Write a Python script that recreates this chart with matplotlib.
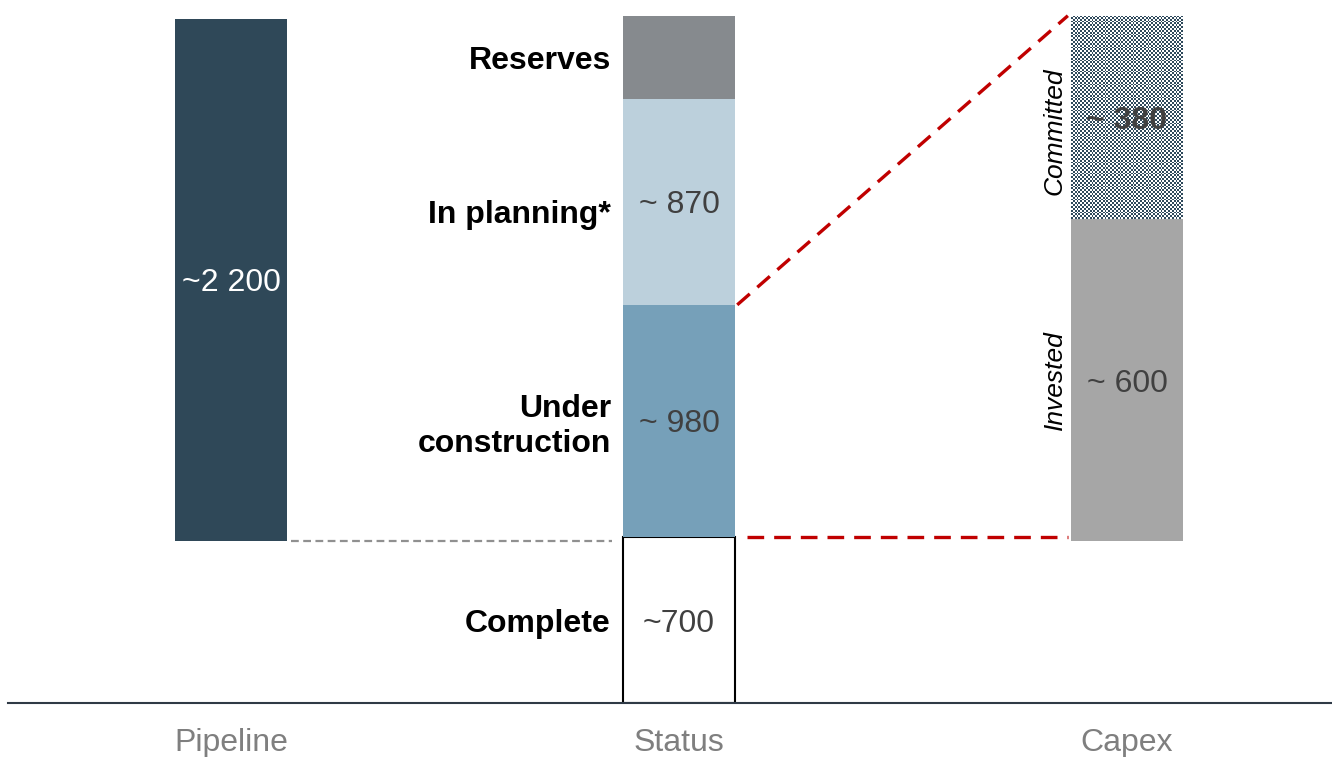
import numpy as np
import matplotlib.pyplot as plt

plt.rcParams['font.family'] = ['Liberation Sans', 'DejaVu Sans']

# categories along the x axis
categories = ['Pipeline', 'Status', 'Capex']

# pipeline total (units)
pipeline_value = 2200
pipeline_label = '~2 200'

# status breakdown, bottom to top
status_names = ['Complete', 'Under\nconstruction', 'In planning*', 'Reserves']
status_values = [700, 980, 870, 350]
status_labels = ['~700', '~ 980', '~ 870', '']
status_colors = ['white', '#76a0b9', '#bcd0dc', '#868a8e']

# capex breakdown (own scale), bottom to top
capex_names = ['Invested', 'Committed']
capex_values = [600, 380]
capex_labels = ['~ 600', '~ 380']

PX = 0.237            # pixels per unit on the main axis
CAPEX_PX = 0.536      # pixels per unit on the capex axis
PIPE_BASE = 685       # pipeline bar floats at the complete level
W = 0.248

fig = plt.figure(figsize=(13.32, 7.57), dpi=100)
ax = fig.add_axes([8 / 1332, 54 / 757, 1324 / 1332, 703 / 757])
ax.set_xlim(-223 / 448, 1101 / 448)
ax.set_ylim(0, 703 / PX)

ax2 = ax.twinx()
ax2.set_ylim(-(703 - 541) / CAPEX_PX, 541 / CAPEX_PX)

for a in (ax, ax2):
    for s in ['top', 'right', 'left']:
        a.spines[s].set_visible(False)
    a.set_yticks([])
ax2.spines['bottom'].set_visible(False)
ax.spines['bottom'].set_color('#2f3a46')
ax.spines['bottom'].set_linewidth(1.5)

ax.set_xticks(range(len(categories)), categories)
ax.tick_params(axis='x', length=0, pad=18, labelsize=23, labelcolor='#7f7f7f')

fs_name = 23
fs_val = 23

# pipeline
ax.bar(0, pipeline_value, W, bottom=PIPE_BASE, color='#2f4858')
ax.text(0, PIPE_BASE + pipeline_value / 2, pipeline_label, ha='center',
        va='center_baseline', fontsize=fs_val, color='white')

# status stack
bottom = 0
for name, val, lab, col in zip(status_names, status_values, status_labels, status_colors):
    if col == 'white':
        ax.bar(1, val, W, bottom=bottom, facecolor='white', edgecolor='black', linewidth=1.5)
    else:
        ax.bar(1, val, W, bottom=bottom, color=col)
    mid = bottom + val / 2
    shift = -40 if name.startswith('In planning') else 0
    ax.text(1 - W / 2 - 0.028, mid + shift, name, ha='right', va='center_baseline',
            fontsize=fs_name, fontweight='bold', color='black', linespacing=1.2)
    if lab:
        ax.text(1, mid, lab, ha='center', va='center_baseline', fontsize=fs_val,
                color='#404040')
    bottom += val

# capex stack
inv = ax2.bar(2, capex_values[0], W, bottom=0, color='#a6a6a6')
com = ax2.bar(2, capex_values[1], W, bottom=capex_values[0], color='#97a4ad')[0]
# checker texture for the committed part
cells = np.indices((110, 60)).sum(axis=0) % 2
x0, y0 = com.get_x(), com.get_y()
img = ax2.imshow(cells, cmap=plt.matplotlib.colors.ListedColormap(['white', '#2f4a5c']),
                 extent=(x0, x0 + W, y0, y0 + capex_values[1]), aspect='auto',
                 interpolation='nearest', zorder=2)
img.set_clip_path(com)
ax.set_xlim(-223 / 448, 1101 / 448)

ax2.text(2, capex_values[0] / 2, capex_labels[0], ha='center', va='center_baseline',
         fontsize=fs_val, color='#404040', zorder=3)
ax2.text(2, capex_values[0] + capex_values[1] / 2, capex_labels[1], ha='center',
         va='center_baseline', fontsize=fs_val, color='#404040', fontweight='bold',
         zorder=3)
ax2.text(2 - W / 2 - 0.01, capex_values[0] / 2, capex_names[0], ha='right', va='center',
         rotation=90, fontsize=19, style='italic', color='black')
ax2.text(2 - W / 2 - 0.01, capex_values[0] + capex_values[1] / 2 - 26, capex_names[1],
         ha='right', va='center', rotation=90, fontsize=19, style='italic', color='black')

# connector lines
ax.plot([0 + W / 2 + 0.01, 1 - W / 2 - 0.026], [PIPE_BASE, PIPE_BASE], color='#909090',
        lw=1.6, dashes=(3.5, 2))
top_uc = status_values[0] + status_values[1]
capex_top = sum(capex_values)
y_capex_top = ax.transData.inverted().transform(ax2.transData.transform((2, capex_top)))[1]
ax.plot([1 + W / 2 + 0.006, 2 - W / 2 - 0.008], [top_uc, y_capex_top], color='#c00000',
        lw=2.4, dashes=(5, 3))
ax.plot([1 + W / 2 + 0.028, 2 - W / 2 - 0.008], [status_values[0], status_values[0]],
        color='#c00000', lw=2.4, dashes=(5, 3))

fig.savefig('out.png', dpi=100)
